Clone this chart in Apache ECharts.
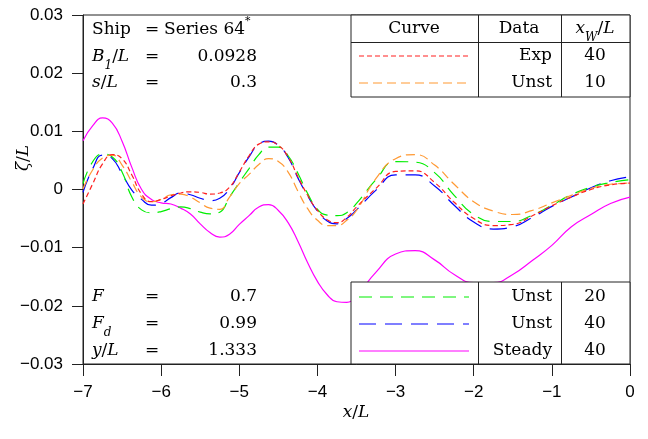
<!DOCTYPE html>
<html>
<head>
<meta charset="utf-8">
<script src="https://cdn.jsdelivr.net/npm/echarts@6/dist/echarts.min.js"></script>
<style>
html, body { margin: 0; padding: 0; background: #fff; }
#chart { width: 648px; height: 439px; }
</style>
</head>
<body>
<div id="chart"></div>
<script>
// x/L stations: every 0.125 up to -3.5, then every 0.25
var xs = [-7, -6.875, -6.75, -6.625, -6.5, -6.375, -6.25, -6.125, -6, -5.875, -5.75, -5.625, -5.5,
	-5.375, -5.25, -5.125, -5, -4.875, -4.75, -4.625, -4.5, -4.375, -4.25, -4.125, -4, -3.875,
	-3.75, -3.625, -3.5, -3.25, -3, -2.75, -2.5, -2.25, -2, -1.75, -1.5, -1.25, -1, -0.75, -0.5, -0.25, 0];

var exp40 = [-0.0025, 0.0010, 0.0044, 0.0060, 0.0053, 0.0025, -0.0008, -0.0021, -0.0017, -0.0011, -0.0006, -0.0004, -0.0005,
	-0.0008, -0.0006, 0.0004, 0.0030, 0.0058, 0.0078, 0.0082, 0.0076, 0.0056, 0.0022, -0.0010, -0.0036, -0.0052,
	-0.0057, -0.0048, -0.0030, 0.0002, 0.0031, 0.0032, 0.0012, -0.0022, -0.0050, -0.0062, -0.0060, -0.0045, -0.0028, -0.0013, 0.0000, 0.0008, 0.0011];
var unst10 = [0.0001, 0.0034, 0.0054, 0.0059, 0.0042, 0.0013, -0.0013, -0.0021, -0.0017, -0.0009, -0.0008, -0.0013, -0.0023,
	-0.0032, -0.0034, -0.0013, 0.0010, 0.0026, 0.0043, 0.0053, 0.0048, 0.0030, -0.0003, -0.0033, -0.0053, -0.0062,
	-0.0062, -0.0053, -0.0036, 0.0019, 0.0053, 0.0060, 0.0042, 0.0009, -0.0021, -0.0037, -0.0043, -0.0036, -0.0023, -0.0010, 0.0002, 0.0009, 0.0011];
var unst20 = [0.0010, 0.0048, 0.0061, 0.0056, 0.0030, -0.0013, -0.0035, -0.0040, -0.0038, -0.0033, -0.0030, -0.0033, -0.0039,
	-0.0042, -0.0039, -0.0013, 0.0012, 0.0036, 0.0060, 0.0073, 0.0073, 0.0058, 0.0028, -0.0007, -0.0034, -0.0044,
	-0.0045, -0.0040, -0.0024, 0.0017, 0.0048, 0.0047, 0.0029, -0.0010, -0.0043, -0.0055, -0.0055, -0.0044, -0.0027, -0.0009, 0.0004, 0.0012, 0.0017];
var unst40 = [-0.0005, 0.0036, 0.0059, 0.0053, 0.0027, -0.0001, -0.0017, -0.0027, -0.0024, -0.0014, -0.0006, -0.0009, -0.0015,
	-0.0019, -0.0015, 0.0001, 0.0029, 0.0056, 0.0078, 0.0083, 0.0076, 0.0055, 0.0020, -0.0011, -0.0037, -0.0054,
	-0.0059, -0.0050, -0.0035, -0.0001, 0.0025, 0.0025, 0.0006, -0.0027, -0.0056, -0.0068, -0.0064, -0.0048, -0.0029, -0.0013, 0.0003, 0.0015, 0.0022];
var steady40 = [0.0084, 0.0110, 0.0123, 0.0114, 0.0083, 0.0038, 0.0000, -0.0017, -0.0023, -0.0025, -0.0032, -0.0042, -0.0059,
	-0.0074, -0.0082, -0.0077, -0.0060, -0.0045, -0.0030, -0.0026, -0.0036, -0.0057, -0.0089, -0.0126, -0.0158, -0.0181,
	-0.0193, -0.0194, -0.0182, -0.0142, -0.0111, -0.0105, -0.0121, -0.0146, -0.0160, -0.0160, -0.0146, -0.0122, -0.0096, -0.0064, -0.0043, -0.0024, -0.0013];

var curves = [
	{ name: 'Exp', xw: '40', data: exp40, color: '#ff2020', dash: [5, 3] },
	{ name: 'Unst', xw: '10', data: unst10, color: '#ff9933', dash: [9, 5] },
	{ name: 'Unst', xw: '20', data: unst20, color: '#00ee00', dash: [13, 8] },
	{ name: 'Unst', xw: '40', data: unst40, color: '#0000ff', dash: [17, 9] },
	{ name: 'Steady', xw: '40', data: steady40, color: '#ff00ff', dash: 'solid' }
];

function minus(v) {
	return String(v).replace('-', '\u2212');
}

var serif = 'DejaVu Serif';
var fs = 17;
var rich = {
	i: { fontFamily: serif, fontSize: fs, fontStyle: 'italic' },
	n: { fontFamily: serif, fontSize: fs },
	s: { fontFamily: serif, fontSize: 12, fontStyle: 'italic', verticalAlign: 'bottom', padding: [0, 0, -6, 0] },
	sup: { fontFamily: serif, fontSize: 11, verticalAlign: 'top', padding: [-6, 0, 0, 0] }
};

function label(x, y, text, align) {
	return {
		type: 'text', z: 110, x: x, y: y,
		style: {
			text: text, fontFamily: serif, fontSize: fs, fill: '#000',
			align: align || 'left', verticalAlign: 'middle', rich: rich
		}
	};
}

var graphics = [];

// parameter notes, left side
[['{n|Ship}', '{n|Series 64}{sup|*}', 30], ['{i|B}{s|1}{n|/}{i|L}', '0.0928', 57], ['{i|s}{n|/}{i|L}', '0.3', 83],
	['{i|F}', '0.7', 297], ['{i|F}{s|d}', '0.99', 324], ['{i|y}{n|/}{i|L}', '1.333', 351]].forEach(function (r, k) {
	graphics.push(label(92, r[2], r[0]));
	graphics.push(label(145, r[2], '='));
	if (k === 0) graphics.push(label(164, r[2], r[1]));
	else graphics.push(label(257, r[2], r[1], 'right'));
});

// legend tables
function box(top, rows, header) {
	var h = 82;
	graphics.push({ type: 'rect', z: 100, shape: { x: 351, y: top, width: 279, height: h },
		style: { fill: '#fff', stroke: '#222', lineWidth: 1 } });
	graphics.push({ type: 'line', z: 101, shape: { x1: 478.5, y1: top, x2: 478.5, y2: top + h }, style: { stroke: '#222', lineWidth: 1 } });
	graphics.push({ type: 'line', z: 101, shape: { x1: 561.5, y1: top, x2: 561.5, y2: top + h }, style: { stroke: '#222', lineWidth: 1 } });
	var y0 = top + 15;
	if (header) {
		graphics.push({ type: 'line', z: 101, shape: { x1: 351, y1: top + 27.5, x2: 630, y2: top + 27.5 }, style: { stroke: '#222', lineWidth: 1 } });
		graphics.push(label(414, top + 14, 'Curve', 'center'));
		graphics.push(label(519, top + 14, 'Data', 'center'));
		graphics.push(label(595, top + 14, '{i|x}{s|W}{n|/}{i|L}', 'center'));
		y0 = top + 41;
	}
	rows.forEach(function (c, k) {
		var y = y0 + k * 27;
		graphics.push({ type: 'line', z: 101, shape: { x1: 359, y1: y, x2: 469, y2: y },
			style: { stroke: c.color, lineWidth: 1.2, lineDash: c.dash === 'solid' ? null : c.dash } });
		graphics.push(label(552, y, c.name, 'right'));
		graphics.push(label(595, y, c.xw, 'center'));
	});
}
box(15, curves.slice(0, 2), true);
box(282, curves.slice(2), false);

// axis titles
var yName = label(24, 158, '{i|\u03b6}{n|/}{i|L}', 'center');
yName.rotation = Math.PI / 2;
graphics.push(yName);
graphics.push(label(356, 413, '{i|x}{n|/}{i|L}', 'center'));

var myChart = echarts.init(document.getElementById('chart'));
var option = {
	animation: false,
	grid: { left: 83, right: 18, top: 15, bottom: 75, show: true, borderColor: '#222', borderWidth: 1 },
	xAxis: {
		type: 'value', min: -7, max: 0, interval: 1,
		axisLine: { onZero: false, lineStyle: { color: '#222' } },
		axisTick: { inside: false, length: 12, lineStyle: { color: '#222' } },
		splitLine: { show: false },
		axisLabel: { margin: 20, fontFamily: 'Liberation Sans', fontSize: 17, color: '#000', formatter: minus }
	},
	yAxis: {
		type: 'value', min: -0.03, max: 0.03, interval: 0.01,
		axisLine: { show: true, onZero: false, lineStyle: { color: '#222' } },
		axisTick: { show: true, inside: false, length: 11, lineStyle: { color: '#222' } },
		splitLine: { show: false },
		axisLabel: {
			margin: 20, fontFamily: 'Liberation Sans', fontSize: 17, color: '#000',
			formatter: function (v) { return minus(+v.toFixed(2)); }
		}
	},
	series: curves.map(function (c) {
		return {
			type: 'line', name: c.name + c.xw, smooth: 0.5, showSymbol: false, z: 2,
			lineStyle: { color: c.color, width: 1.2, type: c.dash },
			data: xs.map(function (x, i) { return [x, c.data[i]]; })
		};
	}).reverse(),
	graphic: graphics
};
myChart.setOption(option);
</script>
</body>
</html>
